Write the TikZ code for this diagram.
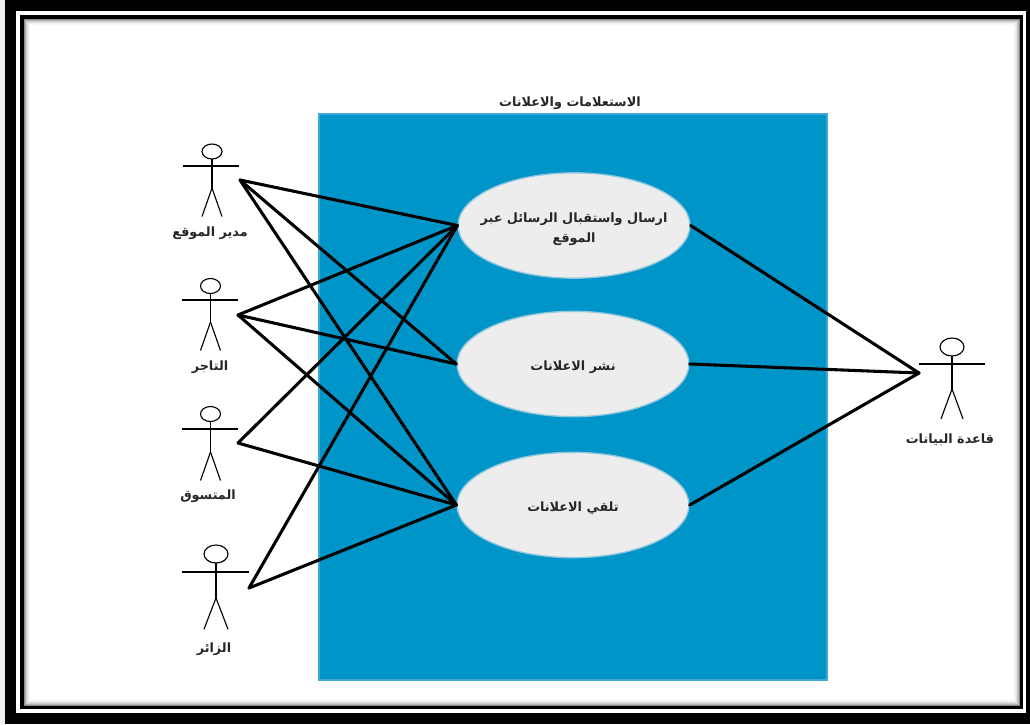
\documentclass[tikz,border=0pt]{standalone}
\usepackage{fontspec}
\usetikzlibrary{shapes.geometric}
\TeXXeTstate=1
\newfontfamily\arabicfont[Script=Arabic]{DejaVu Sans}
\definecolor{sysblue}{HTML}{0095C8}
\definecolor{sysedge}{HTML}{3FA9D6}
\definecolor{usefill}{HTML}{EDEDED}
\definecolor{useedge}{HTML}{8FC6DE}
\tikzset{
  x=0.75pt,y=-0.75pt,
  usecase/.style={shape=ellipse,draw=useedge,line width=1pt,fill=usefill,minimum width=174pt,minimum height=79pt,inner xsep=-14pt,inner ysep=0pt,align=center,font=\arabicfont\bfseries\fontsize{9.6}{15}\selectfont,text=black!85},
  label/.style={inner sep=0pt,font=\arabicfont\bfseries\fontsize{9.6}{11}\selectfont,text=black!85},
  actorline/.style={draw=black,line width=0.85pt},
  link/.style={draw=black,line width=2.3pt,line cap=round,line join=round},
}
\newcommand{\ucline}[1]{\raisebox{-2pt}[8pt][2pt]{\beginR #1\endR}}
\newcommand{\actorfig}[9]{%
  \draw[actorline] (#1,#2) ellipse [x radius=#3*0.75pt,y radius=#4*0.75pt];
  \draw[actorline] (#6,#5) -- (#7,#5);
  \draw[actorline] (#1,#2+#4) -- (#1,#8);
  \draw[actorline] (#1,#8) -- (#1-#9,{#8+1.35*#9+15});
  \draw[actorline] (#1,#8) -- (#1+#9,{#8+1.35*#9+15});
}
\begin{document}
\begin{tikzpicture}
\useasboundingbox (0,0) rectangle (1030,724);
% frame
\fill[black!6] (0,0) rectangle (1030,724);
\fill[black] (5,0) rectangle (1030,724);
\fill[white] (16,11) rectangle (1026,713);
\fill[black] (20,15) rectangle (1023,709);
\foreach \i/\g in {0/45,1/30,2/20,3/12,4/7,5/3,6/0}{
  \fill[black!\g] ({24+\i},{19+\i}) rectangle ({1020-\i},{706-\i});
}
% system
\node[label] (systitle) at (570,103) {\beginR الاستعلامات والاعلانات\endR};
\fill[sysblue,draw=sysedge,line width=0.8pt] (319,114) rectangle (827,680);
\node[usecase] (uc1) at (574,225.5) {\ucline{ارسال واستقبال الرسائل عبر}\\\ucline{الموقع}};
\node[usecase] (uc2) at (573,364) {\ucline{نشر الاعلانات}};
\node[usecase] (uc3) at (573,505) {\ucline{تلقي الاعلانات}};
% actors
\actorfig{212}{151.5}{10}{7.5}{166}{183}{239}{188}{10}
\actorfig{210.5}{286}{10}{7.5}{300}{182}{238}{322}{10}
\actorfig{210.5}{414}{10}{7.5}{429}{182}{238}{452}{10}
\actorfig{216}{554}{12}{9}{572}{182}{249}{598}{12}
\actorfig{952}{347}{12}{9}{364}{919}{985}{389}{11}
\node[label] (l1) at (210,233) {\beginR مدير الموقع\endR};
\node[label] (l2) at (210,367) {\beginR التاجر\endR};
\node[label] (l3) at (208,496) {\beginR المتسوق\endR};
\node[label] (l4) at (214,649) {\beginR الزائر\endR};
\node[label] (l5) at (950,440) {\beginR قاعدة البيانات\endR};
% connector ends
\coordinate (a1) at (240,180);
\coordinate (a2) at (238,315);
\coordinate (a3) at (238,443);
\coordinate (a4) at (249,588);
\coordinate (db) at (919,373);
% links
\draw[link] (a1) -- (uc1.west);
\draw[link] (a1) -- (uc2.west);
\draw[link] (a1) -- (uc3.west);
\draw[link] (a2) -- (uc1.west);
\draw[link] (a2) -- (uc2.west);
\draw[link] (a2) -- (uc3.west);
\draw[link] (a3) -- (uc1.west);
\draw[link] (a3) -- (uc3.west);
\draw[link] (a4) -- (uc1.west);
\draw[link] (a4) -- (uc3.west);
\draw[link] (uc1.east) -- (db);
\draw[link] (uc2.east) -- (db);
\draw[link] (uc3.east) -- (db);
\end{tikzpicture}
\end{document}
